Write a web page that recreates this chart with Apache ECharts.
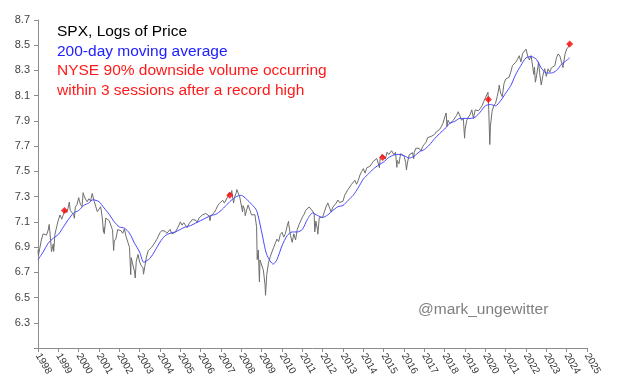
<!DOCTYPE html>
<html><head><meta charset="utf-8">
<script src="https://cdn.jsdelivr.net/npm/echarts@6/dist/echarts.min.js"></script>
<style>html,body{margin:0;padding:0;background:#fff}#c{width:620px;height:392px}</style>
</head><body><div id="c"></div>
<script>
// [decimal year, ln(SPX)]
const pricePoints = [
[1998.00,6.877],[1998.02,6.832],[1998.083,6.888],[1998.167,6.956],[1998.25,7.005],[1998.333,7.014],[1998.417,6.995],[1998.5,7.034],[1998.55,7.079],[1998.583,7.022],[1998.667,6.864],[1998.75,6.925],[1998.77,6.866],[1998.833,7.002],[1998.917,7.060],[1999.0,7.114],
[1999.083,7.155],[1999.167,7.121],[1999.25,7.159],[1999.333,7.197],[1999.417,7.172],[1999.5,7.225],[1999.54,7.257],[1999.583,7.192],[1999.667,7.185],[1999.75,7.157],[1999.79,7.128],[1999.833,7.217],[1999.917,7.236],[2000.0,7.292],
[2000.083,7.240],[2000.167,7.220],[2000.22,7.331],[2000.25,7.313],[2000.333,7.281],[2000.417,7.259],[2000.5,7.283],[2000.583,7.266],[2000.667,7.325],[2000.71,7.327],[2000.75,7.270],[2000.833,7.265],[2000.917,7.181],[2001.0,7.185],
[2001.083,7.220],[2001.167,7.123],[2001.22,7.018],[2001.25,7.056],[2001.26,7.006],[2001.333,7.130],[2001.417,7.136],[2001.5,7.110],[2001.583,7.099],[2001.667,7.034],[2001.72,6.873],[2001.75,6.948],[2001.833,6.966],[2001.917,7.038],[2002.0,7.046],
[2002.083,7.030],[2002.167,7.009],[2002.25,7.045],[2002.333,6.982],[2002.417,6.973],[2002.5,6.898],[2002.56,6.681],[2002.583,6.816],[2002.667,6.820],[2002.75,6.703],[2002.78,6.655],[2002.833,6.787],[2002.917,6.842],[2003.0,6.780],
[2003.083,6.752],[2003.167,6.735],[2003.19,6.685],[2003.25,6.743],[2003.333,6.821],[2003.417,6.871],[2003.5,6.882],[2003.583,6.898],[2003.667,6.916],[2003.75,6.904],[2003.833,6.958],[2003.917,6.964],[2004.0,7.014],
[2004.083,7.031],[2004.167,7.043],[2004.25,7.026],[2004.333,7.009],[2004.417,7.022],[2004.5,7.040],[2004.583,7.005],[2004.667,7.007],[2004.75,7.017],[2004.833,7.030],[2004.917,7.068],[2005.0,7.100],
[2005.083,7.074],[2005.167,7.093],[2005.25,7.074],[2005.333,7.054],[2005.417,7.083],[2005.5,7.083],[2005.583,7.118],[2005.667,7.107],[2005.75,7.114],[2005.833,7.096],[2005.917,7.130],[2006.0,7.129],
[2006.083,7.155],[2006.167,7.155],[2006.25,7.166],[2006.333,7.178],[2006.417,7.147],[2006.46,7.109],[2006.5,7.147],[2006.583,7.152],[2006.667,7.173],[2006.75,7.197],[2006.833,7.228],[2006.917,7.245],[2007.0,7.257],
[2007.083,7.271],[2007.167,7.249],[2007.25,7.259],[2007.333,7.301],[2007.417,7.334],[2007.5,7.315],[2007.53,7.348],[2007.583,7.283],[2007.62,7.249],[2007.667,7.296],[2007.75,7.331],[2007.78,7.356],[2007.833,7.345],[2007.917,7.300],[2008.0,7.292],
[2008.06,7.178],[2008.083,7.229],[2008.167,7.194],[2008.19,7.149],[2008.25,7.188],[2008.333,7.234],[2008.417,7.244],[2008.5,7.155],[2008.583,7.144],[2008.667,7.157],[2008.75,7.061],[2008.78,6.801],[2008.833,6.876],[2008.89,6.623],[2008.917,6.798],[2009.0,6.806],
[2009.083,6.717],[2009.167,6.600],[2009.19,6.518],[2009.25,6.682],[2009.333,6.772],[2009.417,6.823],[2009.5,6.823],[2009.583,6.895],[2009.667,6.928],[2009.75,6.963],[2009.833,6.943],[2009.917,6.999],[2010.0,7.017],
[2010.083,6.979],[2010.167,7.007],[2010.25,7.064],[2010.32,7.104],[2010.333,7.079],[2010.417,6.993],[2010.5,6.938],[2010.51,6.930],[2010.583,7.005],[2010.667,6.956],[2010.75,7.040],[2010.833,7.076],[2010.917,7.074],[2011.0,7.137],
[2011.083,7.159],[2011.167,7.191],[2011.25,7.190],[2011.333,7.218],[2011.417,7.204],[2011.5,7.186],[2011.583,7.164],[2011.61,7.020],[2011.667,7.106],[2011.75,7.031],[2011.76,7.002],[2011.833,7.133],[2011.917,7.128],[2012.0,7.137],
[2012.083,7.179],[2012.167,7.220],[2012.25,7.250],[2012.26,7.258],[2012.333,7.243],[2012.417,7.178],[2012.5,7.217],[2012.583,7.229],[2012.667,7.249],[2012.75,7.273],[2012.833,7.253],[2012.917,7.256],[2013.0,7.263],
[2013.083,7.312],[2013.167,7.323],[2013.25,7.358],[2013.333,7.376],[2013.417,7.397],[2013.5,7.382],[2013.583,7.430],[2013.667,7.398],[2013.75,7.428],[2013.833,7.471],[2013.917,7.499],[2014.0,7.522],
[2014.083,7.486],[2014.167,7.528],[2014.25,7.535],[2014.333,7.541],[2014.417,7.562],[2014.5,7.581],[2014.583,7.566],[2014.667,7.602],[2014.75,7.587],[2014.79,7.529],[2014.833,7.610],[2014.917,7.634],[2015.0,7.630],
[2015.083,7.598],[2015.167,7.652],[2015.25,7.634],[2015.333,7.643],[2015.39,7.664],[2015.417,7.653],[2015.5,7.632],[2015.583,7.652],[2015.65,7.532],[2015.667,7.587],[2015.75,7.560],[2015.833,7.640],[2015.917,7.640],[2016.0,7.623],
[2016.083,7.570],[2016.12,7.512],[2016.167,7.566],[2016.25,7.630],[2016.333,7.633],[2016.417,7.648],[2016.48,7.601],[2016.5,7.649],[2016.583,7.684],[2016.667,7.683],[2016.75,7.682],[2016.833,7.662],[2016.917,7.696],[2017.0,7.714],
[2017.083,7.731],[2017.167,7.768],[2017.25,7.768],[2017.333,7.777],[2017.417,7.788],[2017.5,7.793],[2017.583,7.812],[2017.667,7.813],[2017.75,7.832],[2017.833,7.854],[2017.917,7.882],[2018.0,7.891],
[2018.07,7.963],[2018.083,7.946],[2018.11,7.856],[2018.167,7.906],[2018.25,7.879],[2018.333,7.882],[2018.417,7.903],[2018.5,7.908],[2018.583,7.943],[2018.667,7.973],[2018.72,7.983],[2018.75,7.977],[2018.833,7.905],[2018.917,7.923],[2018.98,7.763],[2019.0,7.827],
[2019.083,7.902],[2019.167,7.932],[2019.25,7.949],[2019.333,7.988],[2019.417,7.920],[2019.5,7.987],[2019.583,8.000],[2019.667,7.981],[2019.75,7.999],[2019.833,8.019],[2019.917,8.052],[2020.0,8.081],
[2020.083,8.079],[2020.13,8.127],[2020.167,7.991],[2020.22,7.713],[2020.25,7.857],[2020.333,7.977],[2020.417,8.021],[2020.5,8.039],[2020.583,8.093],[2020.667,8.161],[2020.68,8.183],[2020.75,8.121],[2020.833,8.093],[2020.917,8.195],[2021.0,8.231],
[2021.083,8.220],[2021.167,8.246],[2021.25,8.287],[2021.333,8.338],[2021.417,8.344],[2021.5,8.366],[2021.583,8.388],[2021.667,8.417],[2021.75,8.368],[2021.833,8.435],[2021.917,8.427],[2022.0,8.469],
[2022.005,8.476],[2022.083,8.415],[2022.167,8.383],[2022.25,8.418],[2022.333,8.326],[2022.38,8.269],[2022.417,8.326],[2022.46,8.207],[2022.5,8.239],[2022.583,8.326],[2022.62,8.368],[2022.667,8.283],[2022.75,8.185],[2022.78,8.182],[2022.833,8.262],[2022.917,8.314],[2023.0,8.253],
[2023.083,8.313],[2023.167,8.287],[2023.25,8.321],[2023.333,8.335],[2023.417,8.338],[2023.5,8.401],[2023.583,8.431],[2023.667,8.414],[2023.75,8.364],[2023.82,8.323],[2023.833,8.341],[2023.917,8.427],[2024.0,8.470],
[2024.083,8.486],[2024.15,8.512]
];
// 200-day moving average, ln scale
const maPoints = [
[1998.0,6.80],[1998.25,6.86],[1998.5,6.93],[1998.75,6.97],[1999.0,7.00],[1999.25,7.06],[1999.5,7.12],[1999.75,7.17],[2000.0,7.19],[2000.25,7.23],[2000.5,7.25],[2000.7,7.275],[2001.0,7.26],[2001.25,7.21],[2001.5,7.16],[2001.75,7.10],[2002.0,7.06],[2002.25,7.05],[2002.5,7.01],[2002.75,6.93],[2003.0,6.86],[2003.2,6.78],[2003.5,6.81],[2003.75,6.87],[2004.0,6.94],[2004.25,6.99],[2004.5,7.01],[2004.75,7.02],[2005.0,7.04],[2005.25,7.06],[2005.5,7.07],[2005.75,7.09],[2006.0,7.11],[2006.25,7.13],[2006.5,7.15],[2006.75,7.16],[2007.0,7.19],[2007.25,7.23],[2007.5,7.27],[2007.75,7.30],[2008.0,7.31],[2008.25,7.28],[2008.5,7.24],[2008.75,7.19],[2009.0,7.02],[2009.25,6.84],[2009.57,6.765],[2009.75,6.80],[2010.0,6.91],[2010.25,6.99],[2010.5,7.02],[2010.75,7.02],[2011.0,7.04],[2011.25,7.12],[2011.5,7.17],[2011.75,7.15],[2012.0,7.135],[2012.25,7.155],[2012.5,7.19],[2012.75,7.22],[2013.0,7.23],[2013.25,7.27],[2013.5,7.31],[2013.75,7.37],[2014.0,7.44],[2014.25,7.48],[2014.5,7.52],[2014.75,7.55],[2015.0,7.575],[2015.25,7.61],[2015.5,7.63],[2015.75,7.635],[2016.0,7.625],[2016.25,7.605],[2016.5,7.62],[2016.75,7.655],[2017.0,7.673],[2017.25,7.71],[2017.5,7.758],[2017.75,7.80],[2018.0,7.836],[2018.25,7.88],[2018.5,7.897],[2018.75,7.92],[2019.0,7.92],[2019.25,7.92],[2019.5,7.93],[2019.75,7.97],[2020.0,8.02],[2020.25,8.03],[2020.5,8.02],[2020.75,8.06],[2021.0,8.12],[2021.25,8.18],[2021.5,8.27],[2021.75,8.34],[2022.0,8.40],[2022.25,8.41],[2022.5,8.39],[2022.75,8.32],[2023.0,8.28],[2023.25,8.28],[2023.5,8.30],[2023.75,8.35],[2024.0,8.38],[2024.15,8.40]
];
// NYSE 90% downside volume days within 3 sessions after a record high
const signalPoints = [[1999.3,7.19],[2007.43,7.31],[2014.95,7.61],[2020.15,8.07],[2024.15,8.51]];
const yearMin = 1998, yearMax = 2025;
const yMin = 6.1, yMax = 8.7, yStep = 0.2;
const titleLines = ["SPX, Logs of Price","200-day moving average","NYSE 90% downside volume occurring","within 3 sessions after a record high"];
const watermark = "@mark_ungewitter";

const chart = echarts.init(document.getElementById('c'));
const FONT = '"Liberation Sans", Arial, sans-serif';
chart.setOption({
  animation:false,
  backgroundColor:'#fff',
  grid:{left:38,right:33,top:20,bottom:44,containLabel:false},
  xAxis:{type:'value',min:yearMin,max:yearMax,interval:1,
    splitLine:{show:false},
    axisLine:{lineStyle:{color:'#8c8c8c'}},
    axisTick:{length:4,lineStyle:{color:'#8c8c8c'}},
    axisLabel:{rotate:-60,fontFamily:FONT,fontSize:10,color:'#333',margin:6,
      formatter:v=>String(Math.round(v))}},
  yAxis:{type:'value',min:yMin,max:yMax,interval:yStep,
    splitLine:{show:false},
    axisLine:{show:true,lineStyle:{color:'#8c8c8c'}},
    axisTick:{show:true,length:4,lineStyle:{color:'#8c8c8c'}},
    axisLabel:{fontFamily:FONT,fontSize:11,color:'#444',margin:8,
      formatter:v=>v<6.2?'':v.toFixed(1)}},
  series:[
    {type:'line',data:pricePoints,showSymbol:false,symbol:'none',
      lineStyle:{color:'#6e6e6e',width:1},z:2},
    {type:'line',data:maPoints,showSymbol:false,symbol:'none',smooth:0.25,
      lineStyle:{color:'#4747ff',width:1},z:3},
    {type:'scatter',data:signalPoints,symbol:'diamond',symbolSize:7,
      itemStyle:{color:'#ff0000'},z:4}
  ],
  graphic:[
    {type:'text',left:57,top:24,style:{text:titleLines[0],fill:'#000',font:'15.5px '+FONT}},
    {type:'text',left:57,top:43.5,style:{text:titleLines[1],fill:'#2020ff',font:'15.5px '+FONT}},
    {type:'text',left:57,top:63,style:{text:titleLines[2],fill:'#ff1a1a',font:'15.5px '+FONT}},
    {type:'text',left:57,top:82.5,style:{text:titleLines[3],fill:'#ff1a1a',font:'15.5px '+FONT}},
    {type:'text',left:418,top:302,style:{text:watermark,fill:'#7f7f7f',font:'15.5px '+FONT}}
  ]
});
</script></body></html>
